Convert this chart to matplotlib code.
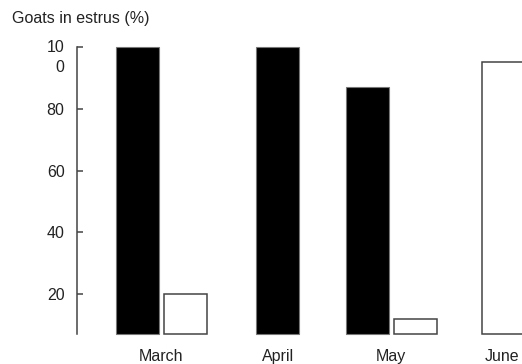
import matplotlib
matplotlib.use("Agg")
import matplotlib.pyplot as plt
import matplotlib.transforms as mtransforms

# data
months = ["March", "April", "May", "June"]
black_vals = [100, 100, 87, 0]
white_vals = [20, 0, 12, 95]
yticks = [20, 40, 60, 80, 100]
ytick_labels = ["20", "40", "60", "80", "10\n0"]

# layout (x in pixel-like units)
black_x = [137.5, 277.5, 367, None]
white_x = [185.5, None, 415, 503.5]
label_x = [161, 278, 391, 502]
bar_w = 43
y_min = 7.1

plt.rcParams["font.family"] = ["Liberation Sans", "DejaVu Sans"]

fig = plt.figure(figsize=(5.22, 3.64), dpi=100)
ax = fig.add_axes([77 / 522, 30 / 364, 445 / 522, 287 / 364])

for x, v in zip(black_x, black_vals):
    if x is not None and v > 0:
        ax.bar(x, v - y_min, bottom=y_min, width=bar_w, color="black",
               edgecolor="#777777", linewidth=0.8, clip_on=False)
for x, v in zip(white_x, white_vals):
    if x is not None and v > 0:
        ax.bar(x, v - y_min, bottom=y_min, width=bar_w, color="white",
               edgecolor="#444444", linewidth=1.1, clip_on=False)

ax.set_xlim(77, 522)
ax.set_ylim(y_min, 100)

for s in ["top", "right", "bottom"]:
    ax.spines[s].set_visible(False)
ax.spines["left"].set_color("#444444")
ax.spines["left"].set_linewidth(1.1)

ax.set_yticks(yticks)
ax.set_yticklabels(ytick_labels, fontsize=11.5, color="#222222")
ax.tick_params(axis="y", direction="in", length=4, width=1.1, color="#444444", pad=9)

# the wrapped "10 / 0" label: first line sits on the tick
top_lbl = ax.get_yticklabels()[-1]
top_lbl.set_va("top")
top_lbl.set_linespacing(1.35)
top_lbl.set_transform(top_lbl.get_transform() +
                      mtransforms.ScaledTranslation(0, 0.065, fig.dpi_scale_trans))

ax.set_xticks(label_x)
ax.set_xticklabels(months, fontsize=11.5, color="#222222")
ax.tick_params(axis="x", length=0, pad=11)

fig.text(12 / 522, 1 - 19 / 364, "Goats in estrus (%)", fontsize=11.5,
         va="center", ha="left", color="#222222")

fig.savefig("out.png", dpi=100)
